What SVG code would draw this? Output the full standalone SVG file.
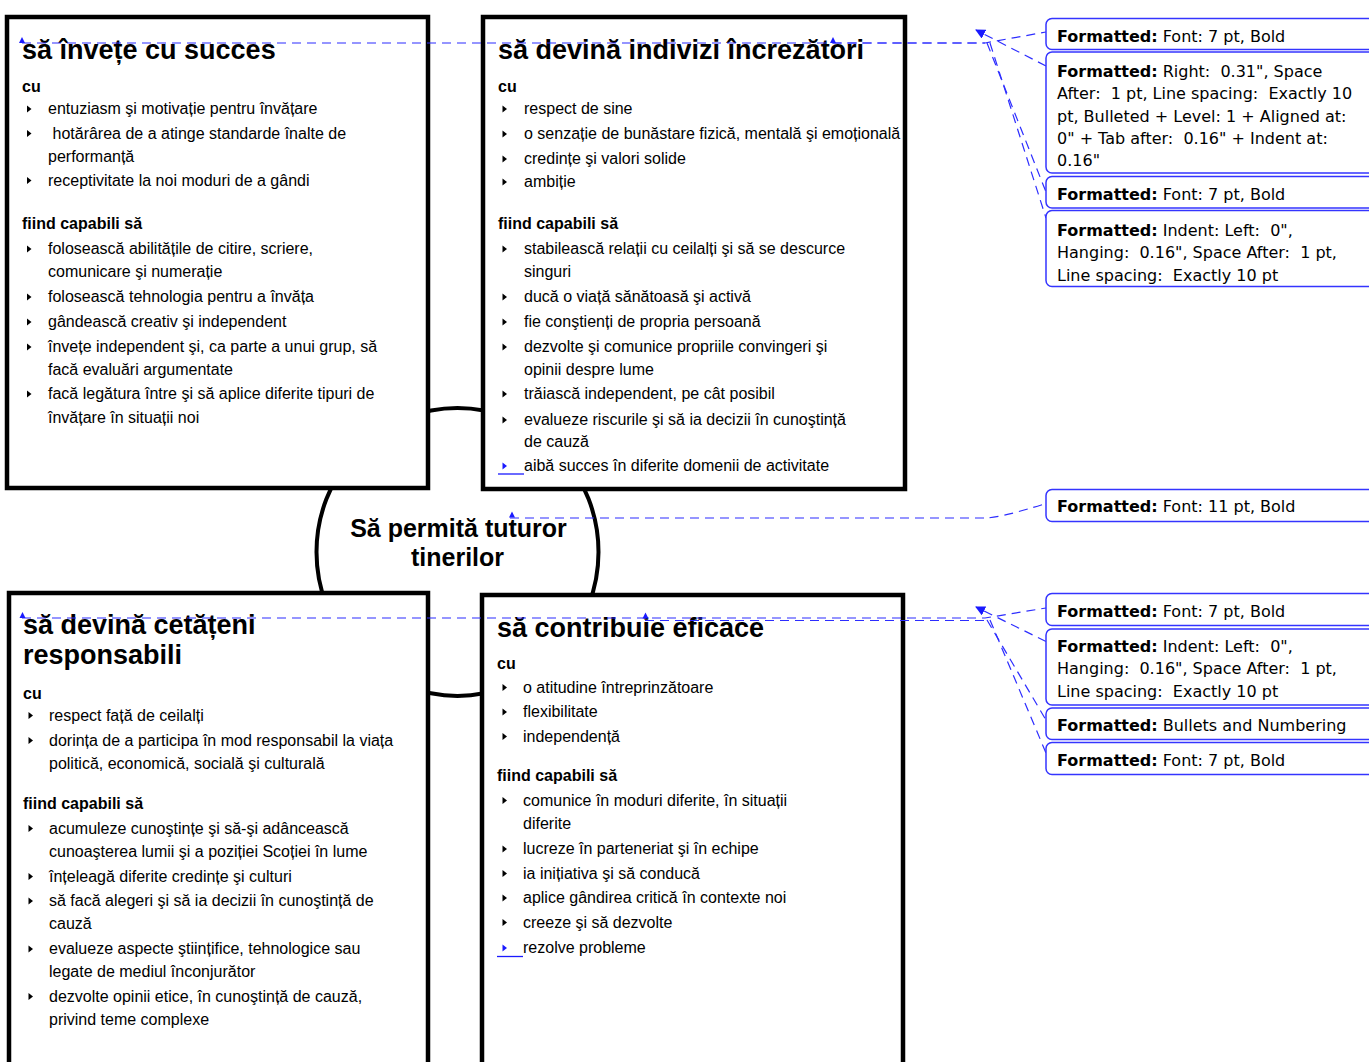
<svg xmlns="http://www.w3.org/2000/svg" width="1369" height="1062" viewBox="0 0 1369 1062">
<style>
.box{fill:#fff;stroke:#000;stroke-width:4.5}
.ring{fill:#fff;stroke:#000;stroke-width:4}
.t{font-family:"Liberation Sans",Arial,sans-serif;font-size:16px;fill:#000}
.h{font-family:"Liberation Sans",Arial,sans-serif;font-size:27px;font-weight:bold;fill:#000}
.c{font-family:"Liberation Sans",Arial,sans-serif;font-size:25px;font-weight:bold;fill:#000;text-anchor:middle}
.lb{font-weight:bold}
.bal{fill:#fff;stroke:#3434ff;stroke-width:1.5}
.bt{font-family:Tahoma,"DejaVu Sans",sans-serif;font-size:16px;fill:#000;white-space:pre}
.fb{font-weight:bold}
.con{fill:none;stroke:#2d2dff;stroke-width:1.2;stroke-dasharray:9 6}
.anc{fill:#1a1aff}
.ul{stroke:#1a1aff;stroke-width:1.3}
</style>
<defs>
<path id="b" d="M0,-3.5 L4.5,0 L0,3.5 Z" fill="#000"/>
<path id="bb" d="M0,-3.5 L4.5,0 L0,3.5 Z" fill="#1a1aff"/>
<path id="a" d="M-3,3 L0,-3 L3,3 Z" fill="#1a1aff"/>
<marker id="arr" viewBox="0 0 10 10" refX="9" refY="5" markerWidth="10" markerHeight="10" markerUnits="userSpaceOnUse" orient="auto">
<path d="M0,0 L10,5 L0,10 Z" fill="#1a1aff"/>
</marker>
</defs>

<g id="center">
<ellipse class="ring" cx="457.5" cy="552" rx="141" ry="144"/>
</g>

<g id="box-tl">
<rect class="box" x="7" y="17" width="421" height="471"/>
<text class="h" x="22" y="59">să învețe cu succes</text>
<text class="t lb" x="22" y="92">cu</text>
<use href="#b" x="27" y="109"/><text class="t" x="48" y="114">entuziasm şi motivație pentru învățare</text>
<use href="#b" x="27" y="133.5"/><text class="t" x="52.5" y="138.5">hotărârea de a atinge standarde înalte de</text>
<text class="t" x="48" y="161.5">performanță</text>
<use href="#b" x="27" y="180.5"/><text class="t" x="48" y="185.5">receptivitate la noi moduri de a gândi</text>
<text class="t lb" x="22" y="229">fiind capabili să</text>
<use href="#b" x="27" y="249"/><text class="t" x="48" y="254">folosească abilitățile de citire, scriere,</text>
<text class="t" x="48" y="276.5">comunicare şi numerație</text>
<use href="#b" x="27" y="297"/><text class="t" x="48" y="302">folosească tehnologia pentru a învăța</text>
<use href="#b" x="27" y="322"/><text class="t" x="48" y="327">gândească creativ şi independent</text>
<use href="#b" x="27" y="347"/><text class="t" x="48" y="352">învețe independent şi, ca parte a unui grup, să</text>
<text class="t" x="48" y="375">facă evaluări argumentate</text>
<use href="#b" x="27" y="394"/><text class="t" x="48" y="399">facă legătura între şi să aplice diferite tipuri de</text>
<text class="t" x="48" y="423">învățare în situații noi</text>
</g>

<g id="box-tr">
<rect class="box" x="483" y="17" width="422" height="472"/>
<text class="h" x="498" y="59">să devină indivizi încrezători</text>
<text class="t lb" x="498" y="92">cu</text>
<use href="#b" x="502.5" y="109"/><text class="t" x="524" y="114">respect de sine</text>
<use href="#b" x="502.5" y="134"/><text class="t" x="524" y="139">o senzație de bunăstare fizică, mentală şi emoțională</text>
<use href="#b" x="502.5" y="159"/><text class="t" x="524" y="164">credințe şi valori solide</text>
<use href="#b" x="502.5" y="182"/><text class="t" x="524" y="187">ambiție</text>
<text class="t lb" x="498" y="229">fiind capabili să</text>
<use href="#b" x="502.5" y="249"/><text class="t" x="524" y="254">stabilească relații cu ceilalți şi să se descurce</text>
<text class="t" x="524" y="276.5">singuri</text>
<use href="#b" x="502.5" y="297"/><text class="t" x="524" y="302">ducă o viață sănătoasă şi activă</text>
<use href="#b" x="502.5" y="322"/><text class="t" x="524" y="327">fie conştienți de propria persoană</text>
<use href="#b" x="502.5" y="347"/><text class="t" x="524" y="352">dezvolte şi comunice propriile convingeri şi</text>
<text class="t" x="524" y="375">opinii despre lume</text>
<use href="#b" x="502.5" y="394"/><text class="t" x="524" y="399">trăiască independent, pe cât posibil</text>
<use href="#b" x="502.5" y="420"/><text class="t" x="524" y="425">evalueze riscurile şi să ia decizii în cunoştință</text>
<text class="t" x="524" y="447">de cauză</text>
<use href="#bb" x="502.5" y="466"/><line class="ul" x1="498" y1="474" x2="524" y2="474"/><text class="t" x="524" y="471">aibă succes în diferite domenii de activitate</text>
</g>

<g id="box-bl">
<rect class="box" x="9" y="593" width="419" height="500"/>
<text class="h" x="23" y="634">să devină cetățeni</text>
<text class="h" x="23" y="663.5">responsabili</text>
<text class="t lb" x="23" y="699">cu</text>
<use href="#b" x="28.5" y="715.5"/><text class="t" x="49" y="720.5">respect față de ceilalți</text>
<use href="#b" x="28.5" y="740.5"/><text class="t" x="49" y="745.5">dorința de a participa în mod responsabil la viața</text>
<text class="t" x="49" y="768.5">politică, economică, socială şi culturală</text>
<text class="t lb" x="23" y="809">fiind capabili să</text>
<use href="#b" x="28.5" y="828.5"/><text class="t" x="49" y="833.5">acumuleze cunoştințe şi să-şi adâncească</text>
<text class="t" x="49" y="856.5">cunoaşterea lumii şi a poziției Scoției în lume</text>
<use href="#b" x="28.5" y="876.5"/><text class="t" x="49" y="881.5">înțeleagă diferite credințe şi culturi</text>
<use href="#b" x="28.5" y="901"/><text class="t" x="49" y="906">să facă alegeri şi să ia decizii în cunoştință de</text>
<text class="t" x="49" y="928.5">cauză</text>
<use href="#b" x="28.5" y="949"/><text class="t" x="49" y="954">evalueze aspecte ştiințifice, tehnologice sau</text>
<text class="t" x="49" y="976.5">legate de mediul înconjurător</text>
<use href="#b" x="28.5" y="996.5"/><text class="t" x="49" y="1001.5">dezvolte opinii etice, în cunoştință de cauză,</text>
<text class="t" x="49" y="1025">privind teme complexe</text>
</g>

<g id="box-br">
<rect class="box" x="482" y="595" width="421" height="500"/>
<text class="h" x="497" y="637">să contribuie eficace</text>
<text class="t lb" x="497" y="669">cu</text>
<use href="#b" x="502.5" y="687.5"/><text class="t" x="523" y="692.5">o atitudine întreprinzătoare</text>
<use href="#b" x="502.5" y="712"/><text class="t" x="523" y="717">flexibilitate</text>
<use href="#b" x="502.5" y="736.5"/><text class="t" x="523" y="741.5">independență</text>
<text class="t lb" x="497" y="780.5">fiind capabili să</text>
<use href="#b" x="502.5" y="800.5"/><text class="t" x="523" y="805.5">comunice în moduri diferite, în situații</text>
<text class="t" x="523" y="828.5">diferite</text>
<use href="#b" x="502.5" y="849"/><text class="t" x="523" y="854">lucreze în parteneriat şi în echipe</text>
<use href="#b" x="502.5" y="873.5"/><text class="t" x="523" y="878.5">ia inițiativa şi să conducă</text>
<use href="#b" x="502.5" y="898"/><text class="t" x="523" y="903">aplice gândirea critică în contexte noi</text>
<use href="#b" x="502.5" y="922.5"/><text class="t" x="523" y="927.5">creeze şi să dezvolte</text>
<use href="#bb" x="502.5" y="948"/><line class="ul" x1="497" y1="956.5" x2="523" y2="956.5"/><text class="t" x="523" y="953">rezolve probleme</text>
</g>

<g id="center-text">
<text class="c" x="458.5" y="537">Să permită tuturor</text>
<text class="c" x="457.5" y="566">tinerilor</text>
</g>

<g id="connectors">
<path class="con" d="M22,43 H985 L1046,32"/>
<path class="con" d="M833,43 H985"/>
<path class="con" d="M1046,66 L976,30" marker-end="url(#arr)"/>
<path class="con" d="M987,43 L1046,192"/>
<path class="con" d="M990,43 L1046,218"/>
<path class="con" d="M510,518 H985 Q1000,518 1046,503.5"/>
<path class="con" d="M22,618 H985 L1046,608"/>
<path class="con" d="M645,620.5 H985"/>
<path class="con" d="M1046,641.5 L976,607" marker-end="url(#arr)"/>
<path class="con" d="M987,620 L1046,720"/>
<path class="con" d="M990,620 L1046,753"/>
<use href="#a" x="22" y="40"/>
<use href="#a" x="833" y="40"/>
<use href="#a" x="512" y="514.5"/>
<use href="#a" x="22.5" y="615"/>
<use href="#a" x="645.5" y="615.5"/>
</g>

<g id="balloon-1">
<rect class="bal" x="1046" y="18.5" width="360" height="31" rx="6"/>
<text class="bt" x="1057" y="41.7"><tspan class="fb">Formatted:</tspan> Font: 7 pt, Bold</text>
</g>
<g id="balloon-2">
<rect class="bal" x="1046" y="52" width="360" height="121" rx="6"/>
<text class="bt" x="1057" y="76.7"><tspan class="fb">Formatted:</tspan> Right:  0.31", Space</text>
<text class="bt" x="1057" y="99.3">After:  1 pt, Line spacing:  Exactly 10</text>
<text class="bt" x="1057" y="121.7">pt, Bulleted + Level: 1 + Aligned at:</text>
<text class="bt" x="1057" y="144">0" + Tab after:  0.16" + Indent at:</text>
<text class="bt" x="1057" y="166.3">0.16"</text>
</g>
<g id="balloon-3">
<rect class="bal" x="1046" y="176.5" width="360" height="31.5" rx="6"/>
<text class="bt" x="1057" y="200"><tspan class="fb">Formatted:</tspan> Font: 7 pt, Bold</text>
</g>
<g id="balloon-4">
<rect class="bal" x="1046" y="210.5" width="360" height="76" rx="6"/>
<text class="bt" x="1057" y="235.7"><tspan class="fb">Formatted:</tspan> Indent: Left:  0",</text>
<text class="bt" x="1057" y="258.3">Hanging:  0.16", Space After:  1 pt,</text>
<text class="bt" x="1057" y="280.7">Line spacing:  Exactly 10 pt</text>
</g>
<g id="balloon-5">
<rect class="bal" x="1046" y="489.5" width="360" height="32" rx="6"/>
<text class="bt" x="1057" y="512.3"><tspan class="fb">Formatted:</tspan> Font: 11 pt, Bold</text>
</g>
<g id="balloon-6">
<rect class="bal" x="1046" y="593.5" width="360" height="32" rx="6"/>
<text class="bt" x="1057" y="616.7"><tspan class="fb">Formatted:</tspan> Font: 7 pt, Bold</text>
</g>
<g id="balloon-7">
<rect class="bal" x="1046" y="629" width="360" height="76" rx="6"/>
<text class="bt" x="1057" y="651.7"><tspan class="fb">Formatted:</tspan> Indent: Left:  0",</text>
<text class="bt" x="1057" y="674.3">Hanging:  0.16", Space After:  1 pt,</text>
<text class="bt" x="1057" y="696.7">Line spacing:  Exactly 10 pt</text>
</g>
<g id="balloon-8">
<rect class="bal" x="1046" y="708" width="360" height="31.5" rx="6"/>
<text class="bt" x="1057" y="730.7"><tspan class="fb">Formatted:</tspan> Bullets and Numbering</text>
</g>
<g id="balloon-9">
<rect class="bal" x="1046" y="742.5" width="360" height="32" rx="6"/>
<text class="bt" x="1057" y="766"><tspan class="fb">Formatted:</tspan> Font: 7 pt, Bold</text>
</g>
</svg>
